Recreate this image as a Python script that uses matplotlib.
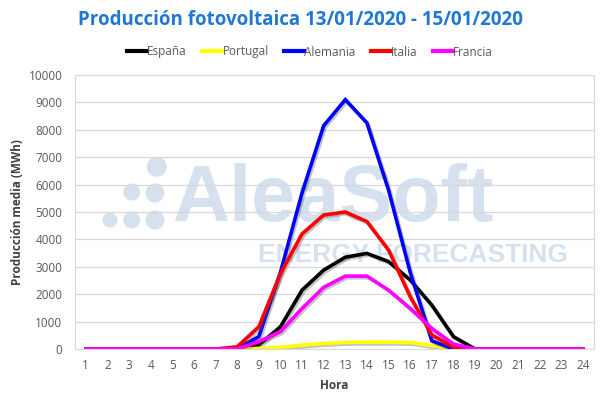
import matplotlib
matplotlib.use("Agg")
import matplotlib.pyplot as plt
import matplotlib.patheffects as pe
from matplotlib.patches import Ellipse

hours = list(range(1, 25))
espana   = [0,0,0,0,0,0,0,10,150,810,2150,2880,3350,3490,3190,2520,1600,450,0,0,0,0,0,0]
portugal = [0,0,0,0,0,0,0,0,20,60,140,200,240,250,250,240,120,10,0,0,0,0,0,0]
alemania = [0,0,0,0,0,0,0,20,450,2800,5700,8150,9100,8250,5800,2800,300,0,0,0,0,0,0,0]
italia   = [0,0,0,0,0,0,0,80,810,2750,4200,4890,5000,4650,3610,1910,510,80,0,0,0,0,0,0]
francia  = [0,0,0,0,0,0,0,0,270,630,1480,2250,2660,2660,2150,1480,750,180,0,0,0,0,0,0]

series = [("España", espana, "#000000"),
          ("Portugal", portugal, "#FFFF00"),
          ("Alemania", alemania, "#0000FF"),
          ("Italia", italia, "#FF0000"),
          ("Francia", francia, "#FF00FF")]

W, H = 600, 399
fig = plt.figure(figsize=(6, 3.99), dpi=100)
ax = fig.add_axes([75/W, 1-349/H, (594-75)/W, (349-75)/H])

wm = "#D5E1EF"
# watermark
fig.text(333/W, 1-201/H, "AleaSoft", fontsize=57, fontweight="bold", color=wm,
         family="Liberation Sans", ha="center", va="center", zorder=0)
fig.text(413/W, 1-255/H, "ENERGY FORECASTING", fontsize=19, fontweight="bold", color=wm,
         family="Liberation Sans", ha="center", va="center", zorder=0)
for (cx, cy, r) in [(156.7,166.7,10),(131.7,192,8.5),(155,193,9.5),(110,220,7.5),(131.7,220,8.5),(155,220,9.5)]:
    fig.patches.append(Ellipse((cx/W, 1-cy/H), 2*r/W, 2*r/H, transform=fig.transFigure,
                               facecolor=wm, edgecolor="none", zorder=0))
ax.set_facecolor("none")
ax.set_zorder(2)

for name, vals, col in series:
    ax.plot(hours, vals, color=col, lw=2.6, label=name, solid_joinstyle="miter",
            path_effects=[pe.SimpleLineShadow(offset=(1.2, -1.2), alpha=0.35, shadow_color="#555555"),
                          pe.Normal()])

ax.set_xlim(0.5, 24.5)
ax.set_ylim(0, 10000)
ax.set_xticks(hours)
ax.set_yticks(range(0, 10001, 1000))
ax.grid(axis="y", color="#D9D9D9", lw=0.9)
ax.set_axisbelow(True)
for s in ax.spines.values():
    s.set_color("#D9D9D9")
ax.tick_params(axis="both", length=0, colors="#595959", labelsize=8.5)
for lab in ax.get_xticklabels() + ax.get_yticklabels():
    lab.set_family("Open Sans")
ax.tick_params(axis="y", pad=9)
ax.tick_params(axis="x", pad=7)

ax.set_xlabel("Hora", fontsize=8.5, fontweight="bold", color="#404040", family="Open Sans", labelpad=5)
ax.set_ylabel("Producción media (MWh)", fontsize=8.5, fontweight="bold", color="#404040", family="Open Sans", labelpad=3)

fig.text(0.5, 1-20/H, "Producción fotovoltaica 13/01/2020 - 15/01/2020", ha="center", va="center",
         fontsize=13.5, fontweight="bold", color="#1F78D4", family="Open Sans")

handles = ax.get_lines()
leg = fig.legend(handles, [s[0] for s in series], loc="center", bbox_to_anchor=(310/W, 1-52/H),
                 ncol=5, frameon=False, handlelength=1.7, handletextpad=0.0,
                 columnspacing=1.3, prop={"family": "Open Sans", "size": 8.5})
for t in leg.get_texts():
    t.set_color("#595959")
for l in leg.get_lines():
    l.set_path_effects([])
    l.set_linewidth(3)

fig.savefig("out.png", dpi=100)
